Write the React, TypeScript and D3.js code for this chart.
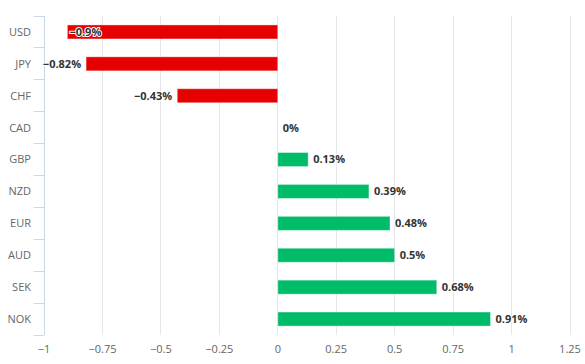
import React, { useEffect, useRef } from 'react';
import * as d3 from 'd3';

const currencies = ['USD', 'JPY', 'CHF', 'CAD', 'GBP', 'NZD', 'EUR', 'AUD', 'SEK', 'NOK'];
const changes = [-0.9, -0.82, -0.43, 0, 0.13, 0.39, 0.48, 0.5, 0.68, 0.91];
const xTicks = [-1, -0.75, -0.5, -0.25, 0, 0.25, 0.5, 0.75, 1, 1.25];

const width = 585;
const height = 364;
const margin = { top: 16, right: 15, bottom: 29, left: 44 };
const font = '"Segoe UI", "Open Sans", "Noto Sans", sans-serif';

function App() {
  const ref = useRef<SVGSVGElement>(null);

  useEffect(() => {
    const svg = d3.select(ref.current);
    svg.selectAll('*').remove();

    const x = d3
      .scaleLinear()
      .domain([-1, 1.25])
      .range([margin.left, width - margin.right]);
    const y = d3
      .scaleBand()
      .domain(currencies)
      .range([margin.top, height - margin.bottom])
      .paddingInner(0.56)
      .paddingOuter(0.28);
    const bottom = height - margin.bottom;

    // grid
    svg
      .append('g')
      .selectAll('line')
      .data(xTicks)
      .enter()
      .append('line')
      .attr('x1', d => x(d))
      .attr('x2', d => x(d))
      .attr('y1', margin.top)
      .attr('y2', bottom)
      .attr('stroke', '#e6e6e6')
      .attr('stroke-width', 1)
      .attr('shape-rendering', 'crispEdges');

    // y axis line + ticks
    const step = y.step();
    svg
      .append('line')
      .attr('x1', margin.left)
      .attr('x2', margin.left)
      .attr('y1', margin.top)
      .attr('y2', bottom)
      .attr('stroke', '#ccd6eb')
      .attr('shape-rendering', 'crispEdges');
    svg
      .append('g')
      .selectAll('line')
      .data(d3.range(currencies.length + 1))
      .enter()
      .append('line')
      .attr('x1', margin.left - 10)
      .attr('x2', margin.left)
      .attr('y1', i => margin.top + i * step)
      .attr('y2', i => margin.top + i * step)
      .attr('stroke', '#ccd6eb')
      .attr('shape-rendering', 'crispEdges');

    // category labels
    svg
      .append('g')
      .selectAll('text')
      .data(currencies)
      .enter()
      .append('text')
      .attr('x', margin.left - 13)
      .attr('y', d => (y(d) as number) + y.bandwidth() / 2)
      .attr('dy', '0.35em')
      .attr('text-anchor', 'end')
      .attr('font-size', 11)
      .attr('font-family', font)
      .attr('fill', '#666666')
      .text(d => d);

    // x tick labels
    svg
      .append('g')
      .selectAll('text')
      .data(xTicks)
      .enter()
      .append('text')
      .attr('x', d => x(d))
      .attr('y', bottom + 18)
      .attr('text-anchor', 'middle')
      .attr('font-size', 11)
      .attr('font-family', font)
      .attr('fill', '#666666')
      .text(d => String(d).replace('-', '\u2212'));

    // bars
    const rows = currencies.map((c, i) => ({ c, v: changes[i] }));
    svg
      .append('g')
      .selectAll('rect')
      .data(rows.filter(d => d.v !== 0))
      .enter()
      .append('rect')
      .attr('x', d => x(Math.min(0, d.v)))
      .attr('width', d => Math.abs(x(d.v) - x(0)))
      .attr('y', d => y(d.c) as number)
      .attr('height', y.bandwidth())
      .attr('fill', d => (d.v < 0 ? '#e60000' : '#00bb6a'))
      .attr('stroke', 'rgba(255,255,255,0.4)')
      .attr('stroke-width', 1);

    // value labels
    const labels = svg
      .append('g')
      .selectAll('text')
      .data(rows)
      .enter()
      .append('text')
      .attr('y', d => (y(d.c) as number) + y.bandwidth() / 2)
      .attr('dy', '0.35em')
      .attr('text-anchor', 'start')
      .attr('font-size', 11)
      .attr('font-weight', 'bold')
      .attr('font-family', font)
      .attr('fill', '#333333')
      .attr('stroke', '#ffffff')
      .attr('stroke-width', 2)
      .attr('stroke-linejoin', 'round')
      .attr('paint-order', 'stroke')
      .text(d => String(d.v).replace('-', '\u2212') + '%');

    labels.attr('x', function (d) {
      if (d.v >= 0) return x(d.v) + 5;
      const w = (this as SVGTextElement).getComputedTextLength();
      const start = x(d.v) - 5 - w;
      // keep near plot area: shift inside the bar if it overflows too far
      return start < margin.left - 8 ? x(d.v) + 2 : start;
    });
  }, []);

  return (
    <svg
      ref={ref}
      width={width}
      height={height}
      style={{ position: 'absolute', left: 0, top: 0, background: '#fff' }}
    />
  );
}

export default App;
